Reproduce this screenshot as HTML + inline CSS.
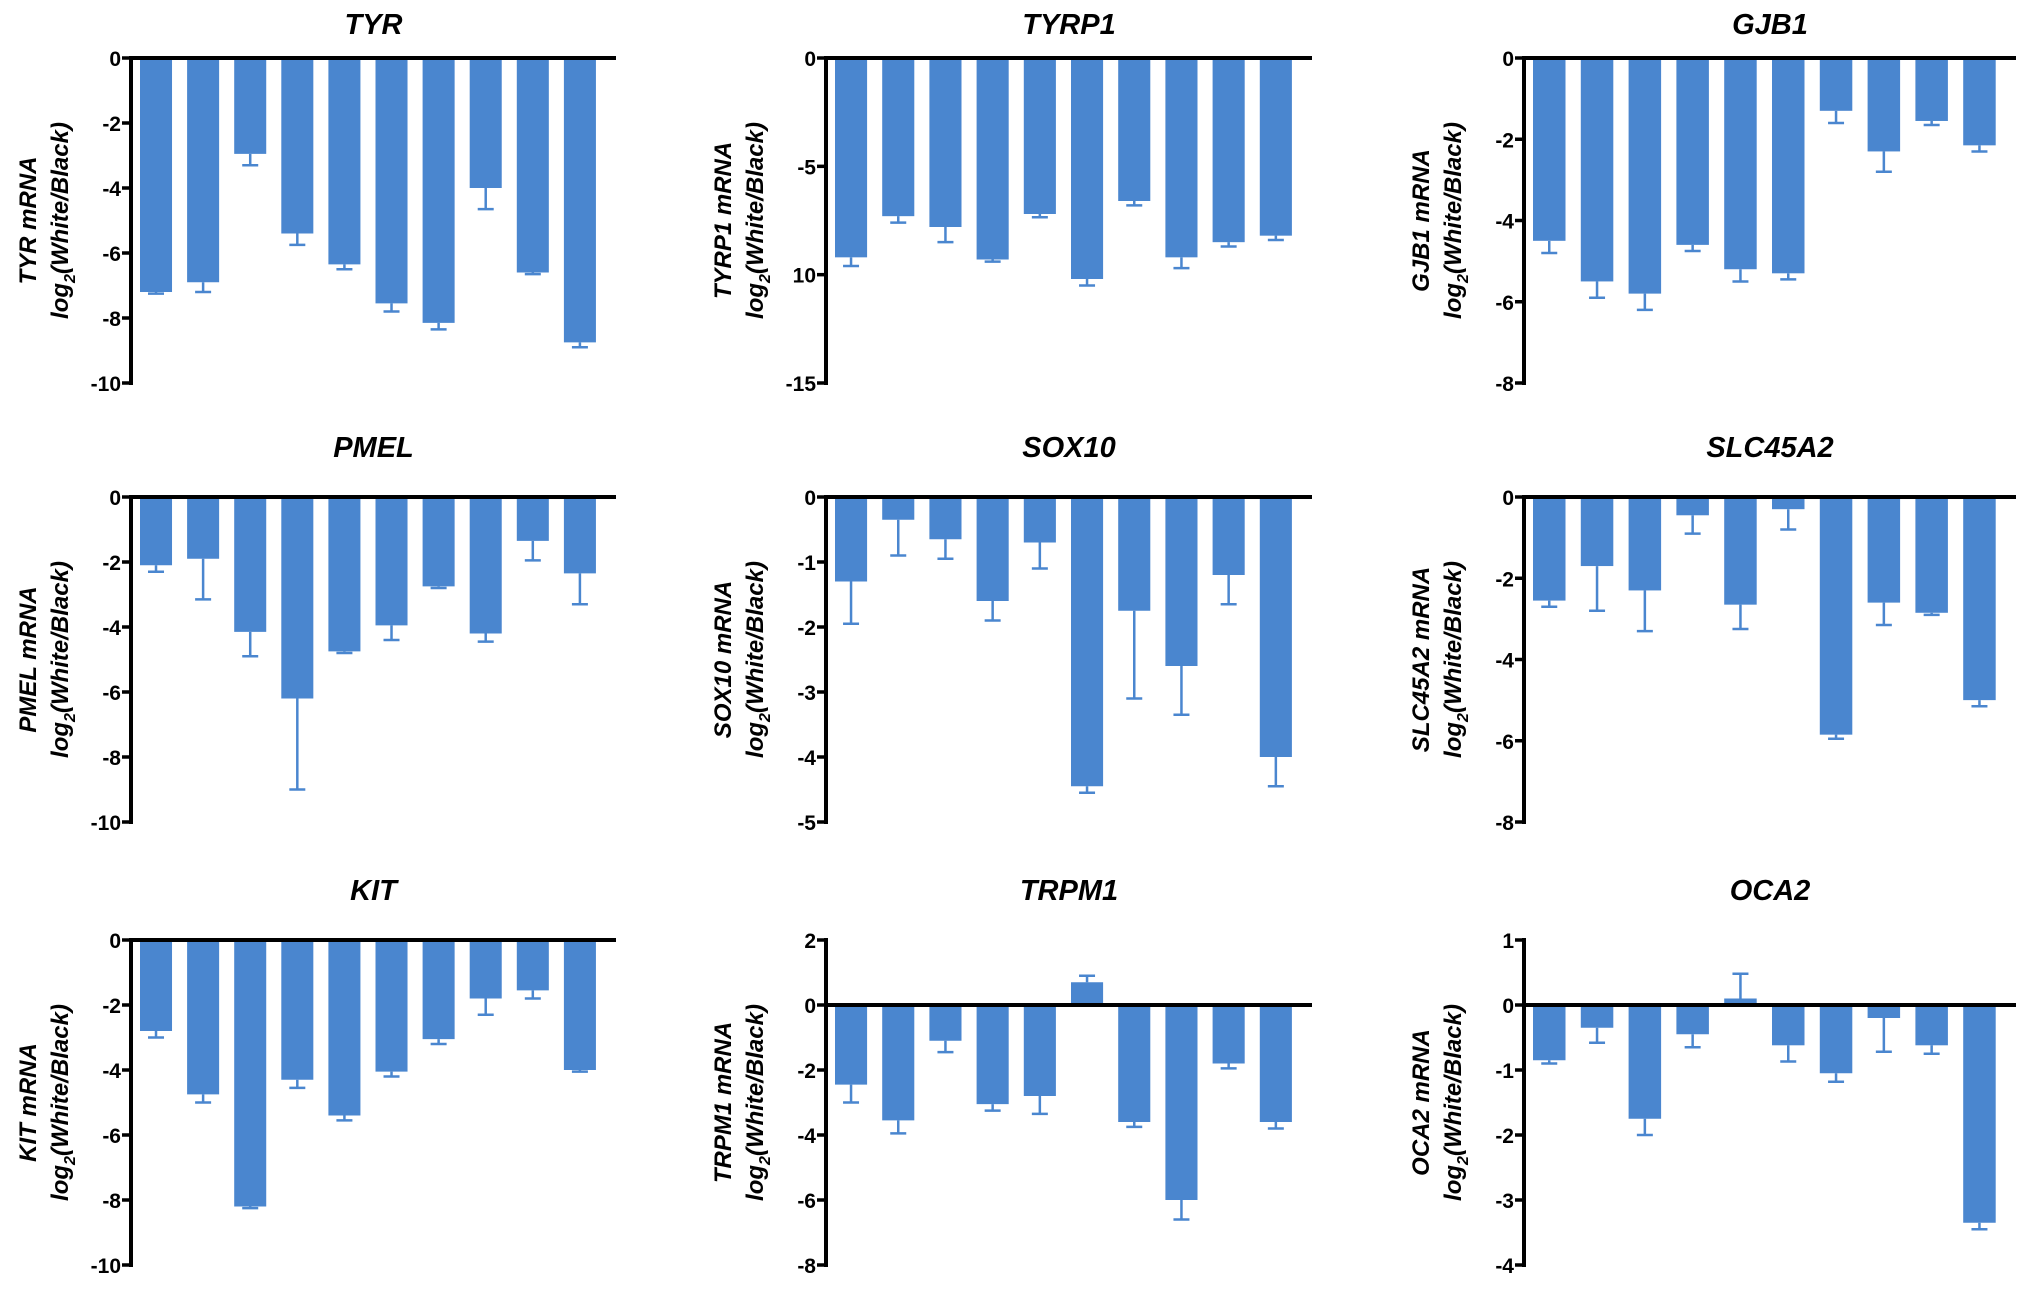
<!DOCTYPE html>
<html><head><meta charset="utf-8"><style>
html,body{margin:0;padding:0;background:#fff;width:2031px;height:1294px;overflow:hidden}
svg{display:block}
text{font-family:"Liberation Sans",Arial,sans-serif}
</style></head><body>
<svg id="fig" width="2031" height="1294" viewBox="0 0 2031 1294" xmlns="http://www.w3.org/2000/svg"></svg>
<script>
const genes = ["TYR","TYRP1","GJB1","PMEL","SOX10","SLC45A2","KIT","TRPM1","OCA2"];
const tyrVals = [-7.2,-6.9,-2.95,-5.4,-6.35,-7.55,-8.15,-4.0,-6.6,-8.75];
const tyrErr  = [0.05,0.3,0.35,0.35,0.15,0.25,0.2,0.65,0.05,0.15];
const tyrp1Vals = [-9.2,-7.3,-7.8,-9.3,-7.2,-10.2,-6.6,-9.2,-8.5,-8.2];
const tyrp1Err  = [0.4,0.3,0.7,0.1,0.15,0.3,0.2,0.5,0.2,0.2];
const gjb1Vals = [-4.5,-5.5,-5.8,-4.6,-5.2,-5.3,-1.3,-2.3,-1.55,-2.15];
const gjb1Err  = [0.3,0.4,0.4,0.15,0.3,0.15,0.3,0.5,0.1,0.15];
const pmelVals = [-2.1,-1.9,-4.15,-6.2,-4.75,-3.95,-2.75,-4.2,-1.35,-2.35];
const pmelErr  = [0.2,1.25,0.75,2.8,0.05,0.45,0.05,0.25,0.6,0.95];
const sox10Vals = [-1.3,-0.35,-0.65,-1.6,-0.7,-4.45,-1.75,-2.6,-1.2,-4.0];
const sox10Err  = [0.65,0.55,0.3,0.3,0.4,0.1,1.35,0.75,0.45,0.45];
const slcVals = [-2.55,-1.7,-2.3,-0.45,-2.65,-0.3,-5.85,-2.6,-2.85,-5.0];
const slcErr  = [0.15,1.1,1.0,0.45,0.6,0.5,0.1,0.55,0.05,0.15];
const kitVals = [-2.8,-4.75,-8.2,-4.3,-5.4,-4.05,-3.05,-1.8,-1.55,-4.0];
const kitErr  = [0.2,0.25,0.05,0.25,0.15,0.15,0.15,0.5,0.25,0.05];
const trpm1Vals = [-2.45,-3.55,-1.1,-3.05,-2.8,0.7,-3.6,-6.0,-1.8,-3.6];
const trpm1Err  = [0.55,0.4,0.35,0.2,0.55,0.2,0.15,0.6,0.15,0.2];
const oca2Vals = [-0.85,-0.35,-1.75,-0.45,0.1,-0.62,-1.05,-0.2,-0.62,-3.35];
const oca2Err  = [0.05,0.23,0.25,0.2,0.38,0.25,0.13,0.52,0.13,0.1];
const yMax = [0,0,0,0,0,0,0,2,1];
const yMin = [-10,-15,-8,-10,-5,-8,-10,-8,-4];
const tickVals = [[0,-2,-4,-6,-8,-10],[0,-5,-10,-15],[0,-2,-4,-6,-8],[0,-2,-4,-6,-8,-10],[0,-1,-2,-3,-4,-5],[0,-2,-4,-6,-8],[0,-2,-4,-6,-8,-10],[2,0,-2,-4,-6,-8],[1,0,-1,-2,-3,-4]];
const tickLabels = [["0","-2","-4","-6","-8","-10"],["0","-5","10","-15"],["0","-2","-4","-6","-8"],["0","-2","-4","-6","-8","-10"],["0","-1","-2","-3","-4","-5"],["0","-2","-4","-6","-8"],["0","-2","-4","-6","-8","-10"],["2","0","-2","-4","-6","-8"],["1","0","-1","-2","-3","-4"]];
const allVals=[tyrVals,tyrp1Vals,gjb1Vals,pmelVals,sox10Vals,slcVals,kitVals,trpm1Vals,oca2Vals];
const allErr=[tyrErr,tyrp1Err,gjb1Err,pmelErr,sox10Err,slcErr,kitErr,trpm1Err,oca2Err];

const NS="http://www.w3.org/2000/svg";
const svg=document.getElementById('fig');
function mk(tag,attrs,parent){const e=document.createElementNS(NS,tag);for(const k in attrs)e.setAttribute(k,attrs[k]);(parent||svg).appendChild(e);return e;}
const colX=[131,826,1524], colW=[485,486,492];
const rowTop=[58,497,940], rowBot=[383,822,1265], titleY=[34,457,900];
const BLUE="#4a86cf";
genes.forEach((g,i)=>{
  const c=i%3, r=Math.floor(i/3);
  const ax=colX[c], w=colW[c], top=rowTop[r], bot=rowBot[r];
  const y=v=>top+(yMax[i]-v)/(yMax[i]-yMin[i])*(bot-top);
  const grp=mk('g',{});
  
  
  const t=mk('text',{x:ax+w/2,y:titleY[r],'text-anchor':'middle','font-size':29,'font-weight':'bold','font-style':'italic'},grp);
  t.textContent=g;
  
  
  const cy=(top+bot)/2;
  const l1=mk('text',{transform:`translate(${ax-95},${cy}) rotate(-90)`,'text-anchor':'middle','font-size':24,'font-weight':'bold','font-style':'italic'},grp);
  l1.textContent=g+' mRNA';
  
  
  const l2=mk('text',{transform:`translate(${ax-63},${cy}) rotate(-90)`,'text-anchor':'middle','font-size':24,'font-weight':'bold','font-style':'italic'},grp);
  l2.innerHTML='log<tspan font-size="16" dy="7">2</tspan><tspan dy="-7">(White/Black)</tspan>';
  
  
  const vals=allVals[i], errs=allErr[i];
  const pitch=(w-14)/10, bw=pitch*0.68;
  const y0=y(0);
  vals.forEach((v,k)=>{
    const bx=ax+9+k*pitch;
    const yt=Math.min(y(v),y0), h=Math.abs(y(v)-y0);
    const b=mk('rect',{x:bx,y:yt,width:bw,height:Math.max(h,1),fill:BLUE},grp);
    
    
    const ev=v<0?v-errs[k]:v+errs[k];
    const cx=bx+bw/2;
    const e=mk('path',{d:`M${cx},${y(v)}L${cx},${y(ev)}M${cx-8},${y(ev)}L${cx+8},${y(ev)}`,stroke:BLUE,'stroke-width':2.5,fill:'none'},grp);
    
    
  });
  const xa=mk('line',{x1:ax,y1:y0,x2:ax+w,y2:y0,stroke:'#000','stroke-width':4},grp);
  
  
  const ya=mk('line',{x1:ax,y1:top-2,x2:ax,y2:bot+2,stroke:'#000','stroke-width':4},grp);
  
  
  tickVals[i].forEach((tv,k)=>{
    const ty=y(tv);
    const tk=mk('line',{x1:ax-9,y1:ty,x2:ax,y2:ty,stroke:'#000','stroke-width':3.5},grp);
    
    
    const tl=mk('text',{x:ax-10,y:ty+8,'text-anchor':'end','font-size':21,'font-weight':'bold'},grp);
    tl.textContent=tickLabels[i][k];
    
    
  });
});
</script>
</body></html>
